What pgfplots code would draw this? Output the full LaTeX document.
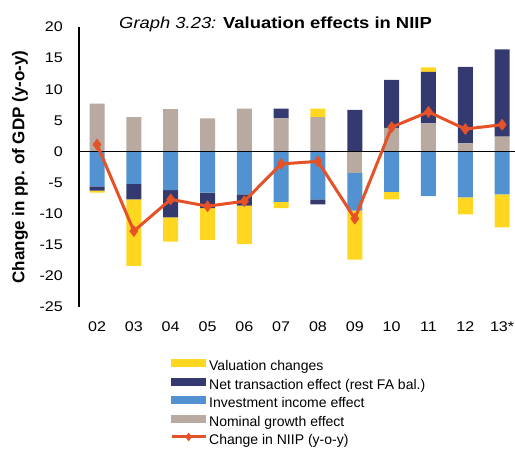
\documentclass[border=0pt]{standalone}
\usepackage{fontspec}
\setmainfont{Liberation Sans}
\newfontfamily\wide{Liberation Sans}[FakeStretch=1.15]
\usepackage{pgfplots}
\usepackage{pgfplotstable}
\pgfplotsset{compat=1.18}
\definecolor{cyel}{RGB}{255,214,32}
\definecolor{cnav}{RGB}{52,58,112}
\definecolor{cblu}{RGB}{82,146,208}
\definecolor{cgry}{RGB}{184,170,161}
\definecolor{corg}{RGB}{230,82,40}

\pgfplotstableread{
x gry nav yel
0 7.7 0 0
1 5.5 0 0
2 6.8 0 0
3 5.3 0 0
4 6.9 0 0
5 5.3 1.6 0
6 5.5 0 1.4
7 0 6.7 0
8 3.8 7.7 0
9 4.5 8.3 0.7
10 1.3 12.3 0
11 2.4 14.0 0
}\postab

\pgfplotstableread{
x gry blu nav yel
0 0 -5.6 -0.7 -0.3
1 0 -5.2 -2.5 -10.7
2 0 -6.2 -4.4 -3.9
3 0 -6.6 -2.5 -5.1
4 0 -6.9 -1.8 -6.2
5 0 -8.1 0 -1.0
6 0 -7.7 -0.8 0
7 -3.4 -6.1 0 -7.9
8 0 -6.5 0 -1.2
9 0 -7.2 0 0
10 0 -7.4 0 -2.7
11 0 -6.9 0 -5.3
}\negtab

\pgfplotstableread{
x v
0 1.1
1 -12.8
2 -7.7
3 -8.8
4 -8.0
5 -2.0
6 -1.6
7 -10.8
8 3.9
9 6.35
10 3.6
11 4.3
}\niip

\pgfplotsset{base/.style={
  scale only axis, width=436pt, height=280pt,
  at={(79pt,142pt)}, anchor=south west,
  xmin=-0.49, xmax=11.35, ymin=-25, ymax=20,
  xtick={0,...,11},
  xticklabels={02,03,04,05,06,07,08,09,10,11,12,13*},
  ytick={-25,-20,...,20},
  major tick length=0pt,
  /pgf/number format/assume math mode=true,
  tick label style={font=\wide\fontsize{14}{16}\selectfont, inner sep=0pt},
  xticklabel shift=15pt,
  yticklabel shift=16pt,
}}

\begin{document}
\begin{tikzpicture}[x=1pt,y=1pt]
\useasboundingbox (0,0) rectangle (515,449);
\begin{axis}[base, ybar stacked, bar width=15pt,
  axis lines*=left,
  x axis line style={draw=none},
  y axis line style={line width=2pt},
  ylabel={Change in pp. of GDP (y-o-y)},
  every axis y label/.style={at={(axis description cs:-0.1353,0.5)}, rotate=90, anchor=center, font=\bfseries\fontsize{17}{19}\selectfont},
]
\addplot[fill=cgry, draw=none] table[x=x,y=gry]{\postab};
\addplot[fill=cnav, draw=none] table[x=x,y=nav]{\postab};
\addplot[fill=cyel, draw=none] table[x=x,y=yel]{\postab};
\end{axis}
\begin{axis}[base, ybar stacked, bar width=15pt, hide axis]
\addplot[fill=cgry, draw=none] table[x=x,y=gry]{\negtab};
\addplot[fill=cblu, draw=none] table[x=x,y=blu]{\negtab};
\addplot[fill=cnav, draw=none] table[x=x,y=nav]{\negtab};
\addplot[fill=cyel, draw=none] table[x=x,y=yel]{\negtab};
\end{axis}
\begin{axis}[base, hide axis,
  legend style={at={(0.2087,-0.184)}, anchor=north west, draw=none, fill=none, inner sep=0pt,
    row sep=0pt, font=\fontsize{14}{16}\selectfont,
    nodes={inner ysep=0pt, inner xsep=2pt, text height=12pt, text depth=6.5pt}},
  legend cell align=left,
]
\draw[black, line width=0.9pt] (axis cs:-0.49,0) -- (axis cs:11.35,0);
\addplot[sharp plot, corg, line width=3pt, mark=diamond*, mark size=5.5pt, mark options={line width=0.5pt, fill=corg}, forget plot] table[x=x,y=v]{\niip};
\addlegendimage{legend image code/.code={\fill[cyel] (0pt,1.5pt) rectangle (34pt,8.5pt);}}
\addlegendentry{Valuation changes}
\addlegendimage{legend image code/.code={\fill[cnav] (0pt,1.5pt) rectangle (34pt,8.5pt);}}
\addlegendentry{Net transaction effect (rest FA bal.)}
\addlegendimage{legend image code/.code={\fill[cblu] (0pt,1.5pt) rectangle (34pt,8.5pt);}}
\addlegendentry{Investment income effect}
\addlegendimage{legend image code/.code={\fill[cgry] (0pt,1.5pt) rectangle (34pt,8.5pt);}}
\addlegendentry{Nominal growth effect}
\addlegendimage{legend image code/.code={\draw[corg, line width=3pt] (0pt,5pt) -- (34pt,5pt); \fill[corg] (17pt,1pt) -- (20pt,5pt) -- (17pt,9pt) -- (14pt,5pt) -- cycle;}}
\addlegendentry{Change in NIIP (y-o-y)}
\end{axis}
\node[anchor=base, font=\wide\fontsize{16}{18}\selectfont] at (275.5,420) {\textit{Graph 3.23:} \textbf{Valuation effects in NIIP}};
\end{tikzpicture}
\end{document}
